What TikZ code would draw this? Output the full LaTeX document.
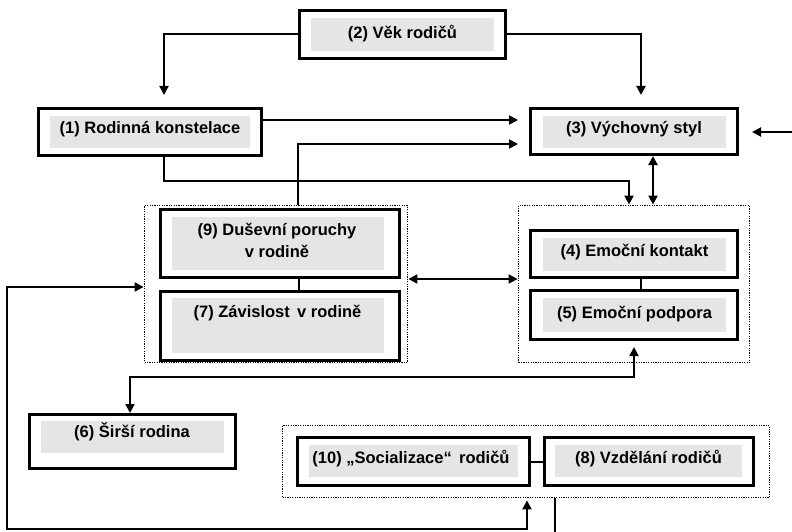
\documentclass[tikz,border=0pt]{standalone}
\usepackage{fontspec}
\setmainfont{Liberation Sans}
\usetikzlibrary{arrows.meta,fit,calc}
\begin{document}
\begin{tikzpicture}[x=1pt,y=-1pt,
 outerbox/.style={draw, line width=3pt, inner sep=0pt},
 graybox/.style={fill=black!10, inner sep=0pt},
 grp/.style={draw, line width=1.8pt, dash pattern=on 1.2pt off 1.2pt, inner sep=0pt},
 txt/.style={font=\fontsize{16.5}{20}\selectfont\bfseries, anchor=base, inner sep=0pt},
 conn/.style={line width=2pt},
 arr/.style={conn, -{Triangle[length=9pt,width=9pt]}},
 darr/.style={conn, {Triangle[length=9pt,width=9pt]}-{Triangle[length=9pt,width=9pt]}},
]
\useasboundingbox (0,0) rectangle (792,532);

% group frames
\node[grp, fit={(144.5,205.5) (407.5,362.5)}] (d1) {};
\node[grp, fit={(518.5,205.5) (749.5,362.5)}] (d2) {};
\node[grp, fit={(282.5,425.5) (769.5,497.5)}] (d3) {};

% boxes
\node[outerbox, fit={(299.5,10.5) (505.5,58.5)}] (b2) {};
\node[graybox, fit={(311,18) (494,51)}] (g2) {};
\node[txt] (t2) at (402.5,39) {(2) Věk rodičů};

\node[outerbox, fit={(38.5,108.5) (261.5,155.5)}] (b1) {};
\node[graybox, fit={(50,116) (250,148)}] (g1) {};
\node[txt] (t1) at (150,133) {(1) Rodinná konstelace};

\node[outerbox, fit={(530.5,108.5) (737.5,154.5)}] (b3) {};
\node[graybox, fit={(543,116) (726,148)}] (g3) {};
\node[txt] (t3) at (634,133) {(3) Výchovný styl};

\node[outerbox, fit={(160.5,209.5) (399.5,277.5)}] (b9) {};
\node[graybox, fit={(172,217) (384,270)}] (g9) {};
\node[txt] (t9a) at (277,235) {(9) Duševní poruchy};
\node[txt] (t9b) at (277,257) {v rodině};

\node[outerbox, fit={(160.5,291.5) (399.5,360.5)}] (b7) {};
\node[graybox, fit={(172,298) (384,353)}] (g7) {};
\node[txt] (t7) at (277.5,317) {(7) Závislost\, v rodině};

\node[outerbox, fit={(530.5,230.5) (737.5,277.5)}] (b4) {};
\node[graybox, fit={(543,238) (726,271)}] (g4) {};
\node[txt] (t4) at (634.5,256) {(4) Emoční kontakt};

\node[outerbox, fit={(530.5,290.5) (737.5,339.5)}] (b5) {};
\node[graybox, fit={(543,298) (726,332)}] (g5) {};
\node[txt] (t5) at (634.5,318) {(5) Emoční podpora};

\node[outerbox, fit={(29.5,414.5) (235.5,468.5)}] (b6) {};
\node[graybox, fit={(41,421) (224,453)}] (g6) {};
\node[txt] (t6) at (132,437) {(6) Širší rodina};

\node[outerbox, fit={(297.5,437.5) (529.5,485.5)}] (b10) {};
\node[graybox, fit={(309,445) (518,477)}] (g10) {};
\node[txt] (t10) at (411,463) {(10) „Socializace“\, rodičů};

\node[outerbox, fit={(544.5,437.5) (753.5,485.5)}] (b8) {};
\node[graybox, fit={(555,445) (742,477)}] (g8) {};
\node[txt] (t8) at (648.5,463) {(8) Vzdělání rodičů};

% connectors
\draw[arr, shorten >=12pt] (b2.west) -| ([xshift=14pt]b1.north);
\draw[arr, shorten >=12pt] (b2.east) -| ([xshift=7pt]b3.north);
\draw[arr, shorten >=11pt] ([yshift=12pt]b1.east) -- ([yshift=11.5pt]b3.west);
\draw[arr, shorten >=11pt] ([xshift=22pt]d1.north) |- ([yshift=-12.5pt]b3.west);
\draw[arr] ([xshift=14pt]b1.south) -- ++(0,24) -| ([xshift=-5pt]d2.north);
\draw[darr] ([xshift=19pt]b3.south) -- ([xshift=19pt]d2.north);
\coordinate (rin) at (792,132);
\draw[arr, shorten >=13pt] (rin) -- (b3.east |- rin);
\draw[conn] ([xshift=19pt]b9.south) -- ([xshift=19pt]b7.north);
\draw[conn] ([xshift=7pt]b4.south) -- ([xshift=7pt]b5.north);
\draw[darr] ([yshift=5pt]d1.east) -- ([yshift=5pt]d2.west);
\draw[darr, shorten >=6pt] ([xshift=-2.5pt]b6.north) -- ++(0,-36) -| (b5.south);
\draw[conn] (b10.east) -- (b8.west);
\coordinate (bout) at (555,532);
\draw[conn] (d3.south -| bout) -- (bout);
\coordinate (lc) at (7,529);
\draw[darr, shorten <=2pt] ([xshift=1pt]d3.south) |- (lc) |- ([yshift=-3pt]d1.west);
\end{tikzpicture}
\end{document}
